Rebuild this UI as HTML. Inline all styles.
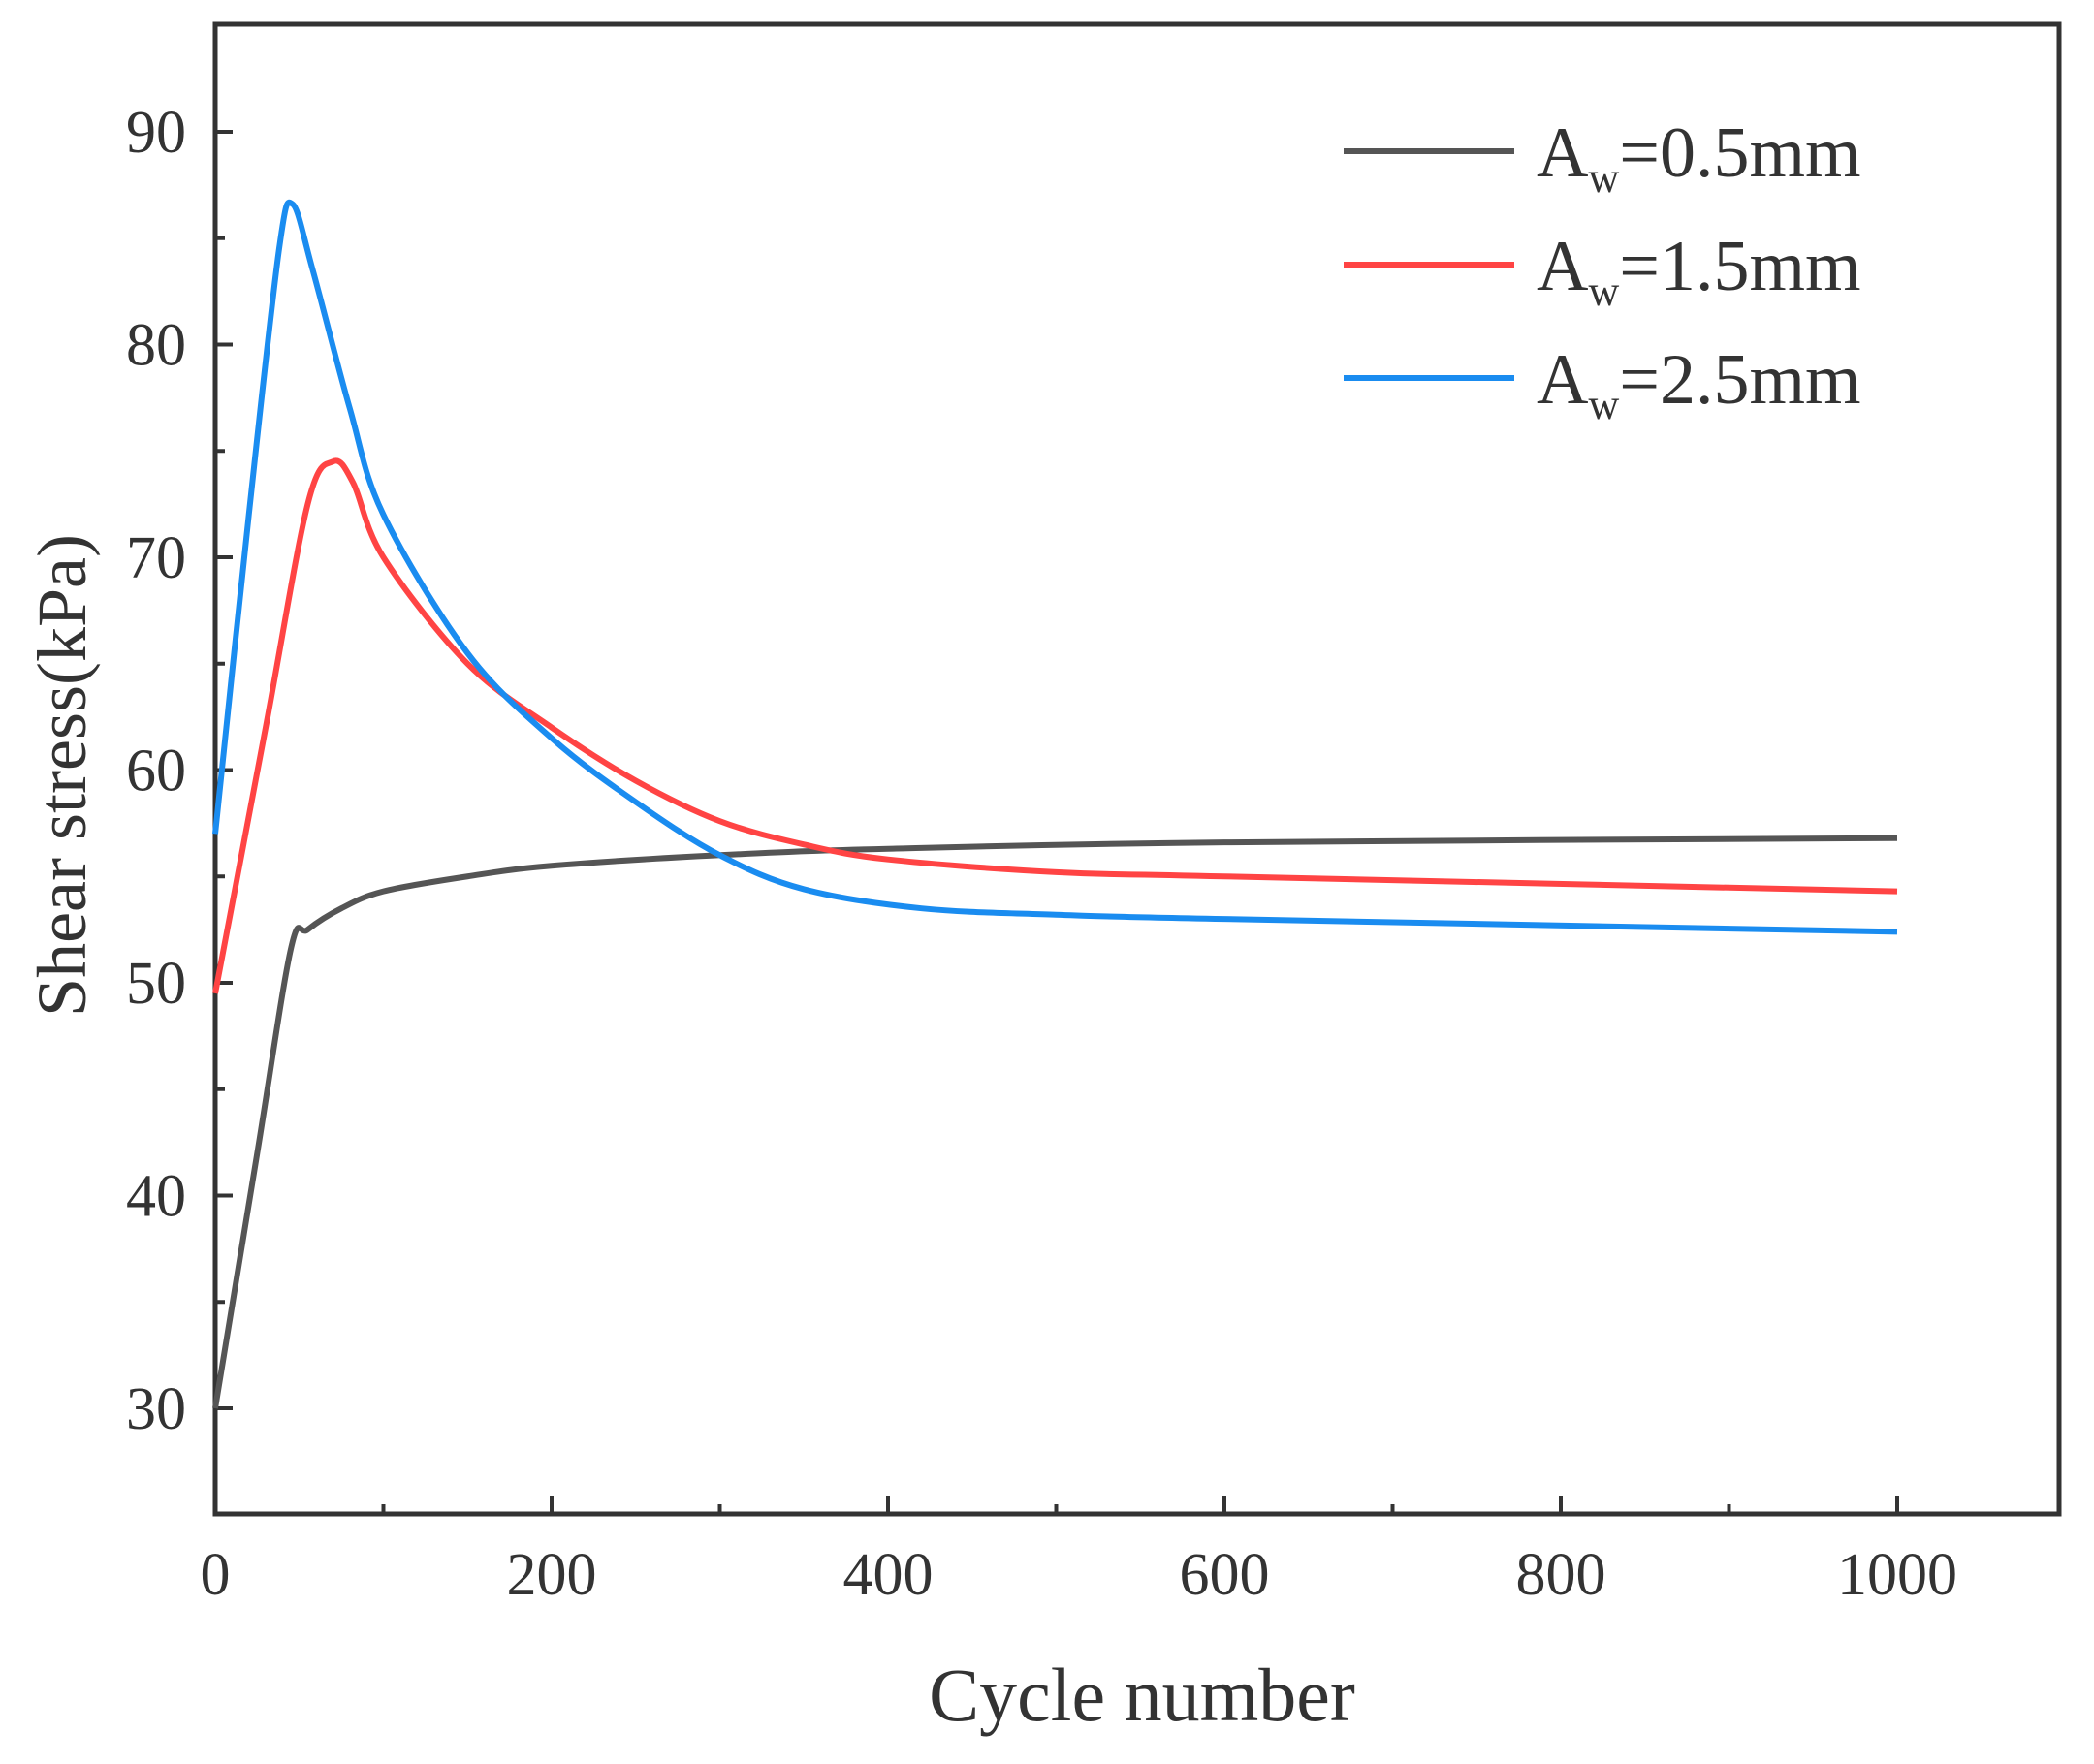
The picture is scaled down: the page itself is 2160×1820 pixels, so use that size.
<!DOCTYPE html>
<html><head><meta charset="utf-8"><style>
html,body{margin:0;padding:0;background:#fff;}
svg{display:block;}
text{font-family:"Liberation Serif",serif;fill:#333;}
</style></head><body>
<svg id="s" width="2160" height="1820" viewBox="0 0 2160 1820" xmlns="http://www.w3.org/2000/svg">
<rect x="222" y="25" width="1902" height="1537" fill="none" stroke="#333" stroke-width="5"/>
<g id="ticks" stroke="#333" stroke-width="4"></g>
<g font-size="62" text-anchor="end" id="yl"></g>
<g font-size="62" text-anchor="middle" id="xl"></g>
<text x="1178" y="1775" font-size="78" text-anchor="middle">Cycle number</text>
<text transform="translate(88,800) rotate(-90)" font-size="72" text-anchor="middle">Shear stress(kPa)</text>
<g stroke-width="6" fill="none">
<line x1="1386" y1="156" x2="1562" y2="156" stroke="#555"/>
<line x1="1386" y1="273" x2="1562" y2="273" stroke="#f44"/>
<line x1="1386" y1="390" x2="1562" y2="390" stroke="#1a8cf0"/>
</g>
<g font-size="74">
<text x="1585" y="182">A<tspan font-size="44" dy="16">w</tspan><tspan dy="-16">=0.5mm</tspan></text>
<text x="1585" y="299">A<tspan font-size="44" dy="16">w</tspan><tspan dy="-16">=1.5mm</tspan></text>
<text x="1585" y="416">A<tspan font-size="44" dy="16">w</tspan><tspan dy="-16">=2.5mm</tspan></text>
</g>
<g id="curves" fill="none" stroke-width="6" stroke-linejoin="round"></g>
</svg>
<script>
var X=function(c){return 222+c*1.735;},Y=function(v){return 136+(90-v)*21.95;};
var NS="http://www.w3.org/2000/svg";
function el(t,a,p){var e=document.createElementNS(NS,t);for(var k in a)e.setAttribute(k,a[k]);document.getElementById(p).appendChild(e);return e;}
for(var c=100;c<=1000;c+=100){var L=c%200==0?18:10;el('line',{x1:X(c),x2:X(c),y1:1562,y2:1562-L},'ticks');}
for(var c=0;c<=1000;c+=200){var t=el('text',{x:X(c),y:1645},'xl');t.textContent=c;}
for(var v=30;v<=90;v+=5){var L=v%10==0?18:10;el('line',{x1:222,x2:222+L,y1:Y(v),y2:Y(v)},'ticks');}
for(var v=30;v<=90;v+=10){var t=el('text',{x:192,y:Y(v)+21},'yl');t.textContent=v;}
function path(pts){var P=pts.map(function(p){return [X(p[0]),Y(p[1])];});var d="M"+P[0][0]+","+P[0][1];
for(var i=0;i<P.length-1;i++){var p0=P[i-1]||P[i],p1=P[i],p2=P[i+1],p3=P[i+2]||p2;
d+=" C"+(p1[0]+(p2[0]-p0[0])/6)+","+(p1[1]+(p2[1]-p0[1])/6)+" "+(p2[0]-(p3[0]-p1[0])/6)+","+(p2[1]-(p3[1]-p1[1])/6)+" "+p2[0]+","+p2[1];}
return d;}
var S=[["#555",[[0,30],[25,42],[45,51.6],[55,52.5],[75,53.5],[100,54.3],[150,55],[200,55.5],[300,56],[400,56.3],[600,56.6],[1000,56.8]]],
["#f44",[[0,49.5],[30,62],[55,72.5],[70,74.5],[82,73.5],[100,70],[150,65],[200,62],[250,59.5],[300,57.6],[350,56.5],[400,55.8],[500,55.2],[600,55],[1000,54.3]]],
["#1a8cf0",[[0,57],[20,72],[38,84.5],[46,86.6],[58,83.5],[80,77],[100,72],[150,65.5],[200,61.5],[250,58.5],[300,56],[350,54.4],[420,53.5],[500,53.2],[600,53],[1000,52.4]]]];
S.forEach(function(s){el('path',{d:path(s[1]),stroke:s[0]},'curves');});
</script>
</body></html>
